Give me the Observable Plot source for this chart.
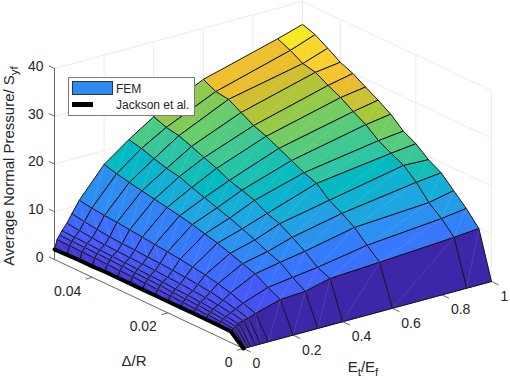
<!DOCTYPE html>
<html><head><meta charset="utf-8">
<script src="https://cdn.jsdelivr.net/npm/d3@7"></script>
<script src="https://cdn.jsdelivr.net/npm/@observablehq/plot@0.6"></script>
<style>
html,body{margin:0;padding:0;background:#fff;width:510px;height:380px;overflow:hidden}
#wrap{position:relative;width:510px;height:380px;font-family:"Liberation Sans",Arial,sans-serif}
#legend{position:absolute;left:68px;top:77px;width:125px;height:37px;background:#fff;border:1px solid #7a7a7a;color:#262626;font-size:12px}
#legend .sw{position:absolute;left:3px;top:3px;width:39px;height:12px;background:#2f8cf3;border:1px solid #333}
#legend .ln{position:absolute;left:3px;top:24px;width:21px;height:5px;background:#000}
#legend .t{position:absolute;left:47px;white-space:nowrap}
</style></head><body><div id="wrap"></div>
<script>
const etValues = [0,.01,.02,.03,.05,.07,.1,.2,.3,.4,.6,.9,1];
const deltaValues = [0,.05/15,.1/15,.15/15,.2/15,.25/15,.3/15,.35/15,.4/15,.45/15,.5/15,.55/15,.6/15,.65/15,.7/15,.05];
const p00  = [0,2.3,2.4,2.4,2.4,2.4,2.4,2.4,2.4,2.4,2.4,2.4,2.3,2.3,2.2,2.1];
const p01  = [0,2.8,3.0,3.1,3.2,3.3,3.4,3.5,3.6,3.7,3.7,3.8,3.9,3.9,4.0,4.0];
const p02  = [0,3.1,3.4,3.6,3.8,3.9,4.0,4.2,4.3,4.4,4.5,4.6,4.7,4.7,4.8,4.8];
const p03  = [0,3.6,3.8,4.1,4.3,4.5,4.6,4.8,4.9,5.0,5.1,5.2,5.3,5.4,5.5,5.6];
const p05  = [0,3.9,4.3,4.7,5.0,5.2,5.4,5.5,5.7,5.8,5.9,6.0,6.1,6.3,6.6,6.9];
const p07  = [0,4.1,4.8,5.4,5.9,6.2,6.5,6.7,6.9,7.0,7.2,7.3,7.5,7.8,8.2,8.6];
const p10  = [0,4.7,5.6,6.5,7.2,7.8,8.2,8.6,8.9,9.2,9.5,9.8,10.1,10.3,10.6,11];
const p20  = [0,6.2,7.5,9.1,10,10.9,11.8,12.5,13.2,13.8,14.3,14.8,15.3,15.8,16.4,17.1];
const p30  = [0,6.5,8.2,10.1,11.1,12.3,13.4,14.4,15.3,16.2,17.1,18.1,18.6,19.4,20.3,20.9];
const p40  = [0,7.8,8.9,11,12.7,14.3,15.2,16.7,17.6,18.4,19.7,20.7,21.8,22.8,23.3,24.3];
const p60  = [0,8.4,10.7,13.2,14.9,16.4,18.7,19.7,21,22.3,23.6,24.6,26.1,27.6,28,29.3];
const p90  = [0,9.4,12.1,14.2,17.2,19.5,20.8,22.2,24.3,25.8,27.5,28.8,30.3,30.9,32.4,33.6];
const p100 = [0,9.84,12.8,15.3,17.8,19.3,21.4,22.8,25.1,26.8,28.3,29.9,31,32.7,34.3,35.2];
const pressure = [p00,p01,p02,p03,p05,p07,p10,p20,p30,p40,p60,p90,p100];
const etTicks = [0,.2,.4,.6,.8,1];
const deltaTicks = [0,.02,.04];
const zTicks = [0,10,20,30,40];
const parula = ["#3e26a8","#463cde","#4758f8","#3875fe","#2b91ef","#1ca9df","#02bac3","#31c69f","#64cd6f","#abc739","#e6bb2d","#fec934","#f5e924","#f9fb15"];

// orthographic view of the MATLAB axes box
const DMAX=.05, ZMAX=40;
const px=(e,d)=>243+248*e-189*d/DMAX;
const py=(e,d,z)=>348-67*e-89*d/DMAX-191*z/ZMAX;
const P=(e,d,z)=>({x:px(e,d),y:py(e,d,z)});

const quads=[],seams=[];
for(let i=deltaValues.length-2;i>=0;i--)for(let j=etValues.length-2;j>=0;j--){
  const v=pressure[j][i],k=i+"-"+j;
  [[j,i],[j+1,i],[j+1,i+1],[j,i+1]].forEach(([a,b])=>
    quads.push({k,v,...P(etValues[a],deltaValues[b],pressure[a][b])}));
  [[j,i],[j+1,i+1]].forEach(([a,b])=>
    seams.push({k,...P(etValues[a],deltaValues[b],pressure[a][b])}));
}
const jackson=deltaValues.map((d,i)=>P(0,d,p00[i]));

// box grid lines
const seg=[];let sid=0;
const addSeg=(a,b)=>{const id=sid++;seg.push({id,...a},{id,...b});};
etTicks.forEach(e=>{addSeg(P(e,0,0),P(e,DMAX,0));addSeg(P(e,DMAX,0),P(e,DMAX,ZMAX));});
deltaTicks.forEach(d=>{addSeg(P(0,d,0),P(1,d,0));addSeg(P(1,d,0),P(1,d,ZMAX));});
zTicks.forEach(z=>{addSeg(P(0,DMAX,z),P(1,DMAX,z));addSeg(P(1,DMAX,z),P(1,0,z));});
addSeg(P(1,0,0),P(1,0,ZMAX));

const axSeg=[];let aid=0;
const addAx=(a,b)=>{const id=aid++;axSeg.push({id,...a},{id,...b});};
addAx(P(0,0,0),P(0,DMAX,0));addAx(P(0,0,0),P(1,0,0));addAx(P(0,DMAX,0),P(0,DMAX,ZMAX));
etTicks.forEach(e=>addAx(P(e,0,0),P(e,-.0018,0)));
deltaTicks.forEach(d=>addAx(P(0,d,0),P(-.025,d,0)));
zTicks.forEach(z=>addAx(P(0,DMAX,z),P(0,DMAX+.0014,z)));

const tickFont={fontSize:14,fill:"#262626",fontFamily:"Liberation Sans"};
const chart=Plot.plot({
  width:510,height:380,margin:0,
  x:{domain:[0,510],range:[0,510],axis:null},
  y:{domain:[0,380],range:[0,380],axis:null},
  color:{type:"linear",domain:[0,35.2],interpolate:d3.piecewise(d3.interpolateRgb,parula)},
  style:{background:"transparent",position:"absolute",left:0,top:0},
  marks:[
    Plot.line(seg,{x:"x",y:"y",z:"id",stroke:"#ececec",strokeWidth:1}),
    Plot.line(axSeg,{x:"x",y:"y",z:"id",stroke:"#6a6a6a",strokeWidth:1}),
    Plot.line(quads,{x:"x",y:"y",z:"k",fill:"v",stroke:"#14141c",strokeWidth:1,curve:"linear-closed"}),
    Plot.line(seams,{x:"x",y:"y",z:"k",stroke:"#fff",strokeOpacity:.13,strokeWidth:.8}),
    Plot.line(jackson,{x:"x",y:"y",stroke:"#000",strokeWidth:4}),
    Plot.text(etTicks,{x:e=>px(e,0),y:e=>py(e,0,0),text:e=>String(e),textAnchor:"start",dx:9,dy:15,...tickFont}),
    Plot.text(deltaTicks,{x:d=>px(0,d),y:d=>py(0,d,0),text:d=>String(d),textAnchor:"end",dx:-11,dy:14,...tickFont}),
    Plot.text(zTicks,{x:()=>px(0,DMAX),y:z=>py(0,DMAX,z),text:z=>String(z),textAnchor:"end",dx:-11,dy:-2,...tickFont})
  ]
});
document.getElementById("wrap").append(chart);

// axis titles with subscripts
const svg=d3.select(chart);
const title=(x,y,rot,parts)=>{
  const t=svg.append("text").attr("transform",`translate(${x},${y}) rotate(${rot})`)
    .attr("text-anchor","middle").attr("fill","#262626").attr("font-family","Liberation Sans").attr("font-size",15);
  let pending=0;
  parts.forEach(([s,sub])=>{
    const dy=sub?4:-pending;pending=sub?4:0;
    t.append("tspan").attr("dy",dy).attr("font-size",sub?11.5:15).text(s);
  });
};
title(134,366,0,[["Δ/R"]]);
title(363,372,0,[["E"],["t",1],["/E"],["f",1]]);
title(13.5,166,-90,[["Average Normal Pressure/ S"],["yf",1]]);

const leg=document.createElement("div");leg.id="legend";
leg.innerHTML='<div class="sw"></div><div class="t" style="top:4px">FEM</div><div class="ln"></div><div class="t" style="top:20px">Jackson et al.</div>';
document.getElementById("wrap").append(leg);
</script></body></html>
